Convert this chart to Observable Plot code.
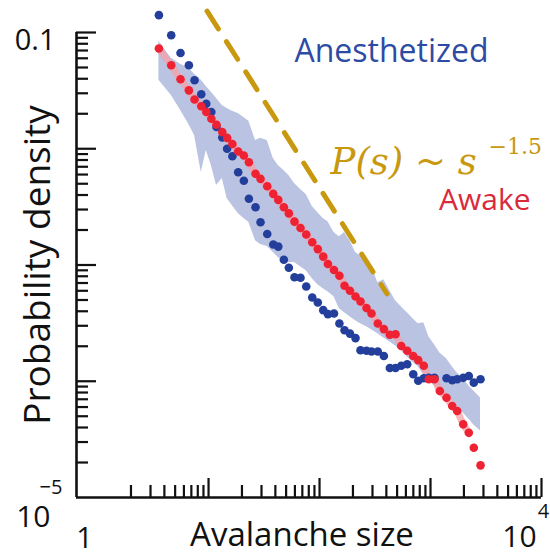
<!DOCTYPE html>
<html>
<head>
<meta charset="utf-8">
<script src="https://cdn.jsdelivr.net/npm/d3@7"></script>
<script src="https://cdn.jsdelivr.net/npm/@observablehq/plot@0.6"></script>
<style>
  html, body { margin: 0; padding: 0; background: #fff; }
</style>
</head>
<body>
<div id="chart"></div>
<script>
// Avalanche size bins (shared by both conditions)
const sizes = [3.57, 4.61, 5.59, 6.65, 7.48, 8.60, 9.54, 10.6, 11.8, 13.3, 14.7, 16.4, 18.5, 20.8, 23.1,
  26.5, 29.4, 33.8, 38.3, 42.5, 47.7, 52.9, 59.5, 67.4, 75.9, 86.0, 96.5, 108, 119, 135, 151, 168,
  188, 211, 234, 265, 294, 335, 380, 430, 484, 545, 617, 699, 775, 870, 965, 1086, 1213, 1394, 1569,
  1740, 1971, 2213, 2455, 2822];

// Probability density, awake condition (mean)
const awake = [0.0728, 0.0522, 0.0396, 0.0318, 0.0265, 0.0232, 0.0207, 0.0181, 0.0161, 0.0139, 0.0124,
  0.0110, 0.00948, 0.00875, 0.00766, 0.00609, 0.00551, 0.00476, 0.00409, 0.00363, 0.00314, 0.00278,
  0.00236, 0.00208, 0.00183, 0.00157, 0.00137, 0.00118, 0.00102, 0.000906, 0.000809, 0.000663,
  0.000600, 0.000536, 0.000486, 0.000426, 0.000383, 0.000314, 0.000281, 0.000251, 0.000254, 0.000201,
  0.000183, 0.000165, 0.000152, 0.000136, 0.000104, 0.000104, 0.0000825, 0.0000722, 0.0000612,
  0.0000555, 0.0000426, 0.0000360, 0.0000268, 0.0000189];

// Spread of the awake distribution (lower / upper edge of the shaded band)
const bandLow = [0.0388, 0.0288, 0.0214, 0.0162, 0.0130, 0.00625, 0.00967, 0.00718, 0.00483, 0.00555,
  0.00373, 0.00324, 0.00277, 0.00251, 0.00232, 0.00162, 0.00150, 0.00144, 0.00128, 0.00116,
  0.00107, 0.00105, 0.00105, 0.000967, 0.000893, 0.000762, 0.000676, 0.000625, 0.000589, 0.000533,
  0.000420, 0.000388, 0.000358, 0.000331, 0.000312, 0.000294, 0.000277, 0.000256, 0.000236, 0.000218,
  0.000201, 0.000183, 0.000162, 0.000144, 0.000133, 0.000113, 0.000101, 0.0000911, 0.0000825, 0.0000747,
  0.0000676, 0.0000612, 0.0000533, 0.0000473, 0.0000420, 0.0000373];
const bandHigh = [0.0841, 0.0600, 0.0533, 0.0492, 0.0437, 0.0388, 0.0344, 0.0306, 0.0271, 0.0236, 0.0222,
  0.0210, 0.0201, 0.0186, 0.0172, 0.0118, 0.0123, 0.0118, 0.00825, 0.00718, 0.00650, 0.00589, 0.00502,
  0.00446, 0.00404, 0.00318, 0.00282, 0.00251, 0.00236, 0.00190, 0.00175, 0.00190, 0.00162, 0.00128,
  0.00120, 0.00111, 0.000986, 0.000704, 0.000747, 0.000600, 0.000492, 0.000437, 0.000388, 0.000344,
  0.000312, 0.000318, 0.000241, 0.000206, 0.000175, 0.000156, 0.000133, 0.000118, 0.000105, 0.0000911,
  0.0000825, 0.0000718];

// Probability density, anesthetized condition (null = empty bin)
const anesthetized = [0.141, 0.0948, 0.0667, 0.0522, 0.0388, 0.0294, 0.0244, 0.0207, 0.0154, 0.0125,
  0.0100, 0.00863, 0.00628, 0.00530, 0.00371, 0.00314, 0.00233, 0.00185, 0.00150, 0.00144, 0.00111,
  0.000948, 0.000785, 0.000777, 0.000654, 0.000526, 0.000476, 0.000409, 0.000378, 0.000383, 0.000314,
  0.000275, 0.000257, 0.000235, 0.000185, 0.000183, 0.000180, 0.000180, 0.000165, 0.000130, 0.000130,
  0.000136, 0.000140, 0.000115, 0.000101, 0.000106, 0.000107, 0.000107, null, 0.000106, 0.000102,
  0.000104, 0.000107, 0.000111, 0.0000973, 0.000104];

// Power-law guide P(s) ~ s^-1.5
const guideExponent = -1.5;
const guidePrefactor = 4.61;
const guideSizes = [9.7, 405];

// Axis extents and labelled ticks
const xDomain = [0.646, 1e4];
const yDomain = [1e-5, 0.1];
const xMajor = [10, 100, 1000, 10000];
const yMajor = [0.1, 0.01, 0.001, 0.0001];
const xLabels = [{value: 1, text: "1"}];
const xPowLabels = [{value: 1e4, base: "10", exp: "4"}];
const yLabels = [{value: 0.1, text: "0.1"}];
const yPowLabels = [{value: 1e-5, base: "10", exp: "\u22125"}];

// Minor log ticks: 2..9 in every decade
const minorTicks = (lo, hi) => {
  const out = [];
  for (let e = lo; e < hi; e++) for (let k = 2; k <= 9; k++) out.push(k * 10 ** e);
  return out;
};
const xMinor = minorTicks(0, 4);
const yMinor = minorTicks(-5, -1);

const rows = sizes.map((s, i) => ({
  s, awake: awake[i], anest: anesthetized[i], lo: bandLow[i], hi: bandHigh[i]
}));
const guide = guideSizes.map(s => ({s, p: guidePrefactor * s ** guideExponent}));

const W = 550, H = 557;
const M = {top: 32, right: 9, bottom: 60, left: 76};
const frameW = W - M.left - M.right;
const frameH = H - M.top - M.bottom;

const ink = "#111";
const blue = "#233f9b";
const red = "#ee2233";
const gold = "#c8980e";
const sans = "'Open Sans', sans-serif";
const serif = "'DejaVu Serif', serif";
const mid = {lineAnchor: "middle"};

const chart = Plot.plot({
  width: W,
  height: H,
  marginTop: M.top,
  marginRight: M.right,
  marginBottom: M.bottom,
  marginLeft: M.left,
  style: {background: "#fff", fontFamily: sans},
  x: {type: "log", domain: xDomain, axis: null},
  y: {type: "log", domain: yDomain, axis: null},
  marks: [
    // spread band
    Plot.areaY(rows, {x: "s", y1: "lo", y2: "hi", fill: "#bbc3e2"}),
    // soft trace under the awake points
    Plot.line(rows.slice(0, 54), {x: "s", y: "awake", stroke: "#f5a0a8", strokeWidth: 7, strokeOpacity: 0.75}),
    // power-law guide
    Plot.line(guide, {x: "s", y: "p", stroke: gold, strokeWidth: 5, strokeDasharray: "21,15"}),
    // data points
    Plot.dot(rows.filter(d => d.anest != null), {x: "s", y: "anest", r: 4.3, fill: blue}),
    Plot.dot(rows, {x: "s", y: "awake", r: 4.3, fill: red}),

    // axes lines
    Plot.ruleX([xDomain[0]], {stroke: ink, strokeWidth: 2.6}),
    Plot.ruleY([yDomain[0]], {stroke: ink, strokeWidth: 2.6}),
    // inward ticks
    Plot.tickY(yMajor, {y: d => d, stroke: ink, strokeWidth: 2.2, insetRight: frameW - 20}),
    Plot.tickY(yMinor, {y: d => d, stroke: ink, strokeWidth: 2.2, insetRight: frameW - 12}),
    Plot.tickX(xMajor, {x: d => d, stroke: ink, strokeWidth: 2.2, insetTop: frameH - 19}),
    Plot.tickX(xMinor, {x: d => d, stroke: ink, strokeWidth: 2.2, insetTop: frameH - 12}),

    // tick labels
    Plot.text(yLabels, {x: () => xDomain[0], y: "value", text: "text", textAnchor: "end", dx: -21, dy: 8, fontSize: 29, fill: ink, ...mid}),
    Plot.text(yPowLabels, {x: () => xDomain[0], y: "value", text: "base", textAnchor: "end", dx: -26, dy: 20, fontSize: 30, fill: ink, ...mid}),
    Plot.text(yPowLabels, {x: () => xDomain[0], y: "value", text: "exp", textAnchor: "start", dx: -37, dy: -10, fontSize: 20, fill: ink, ...mid}),
    Plot.text(xLabels, {x: "value", y: () => yDomain[0], text: "text", dx: -13, dy: 41, fontSize: 29, fill: ink, ...mid}),
    Plot.text(xPowLabels, {x: "value", y: () => yDomain[0], text: "base", dx: -22, dy: 40, fontSize: 30, fill: ink, ...mid}),
    Plot.text(xPowLabels, {x: "value", y: () => yDomain[0], text: "exp", dx: 2, dy: 14, fontSize: 20, fill: ink, ...mid}),

    // axis titles
    Plot.text(["Probability density"], {frameAnchor: "left", textAnchor: "middle", rotate: -90, dx: -38, dy: 0, fontSize: 37, fill: ink, ...mid}),
    Plot.text(["Avalanche size"], {frameAnchor: "bottom", textAnchor: "middle", dx: -7, dy: 38, fontSize: 33, fill: ink, ...mid}),

    // series labels and power-law annotation
    Plot.text(["Anesthetized"], {frameAnchor: "top-right", textAnchor: "end", dx: -53, dy: 19, fontSize: 32, fill: "#2e4ba3", ...mid}),
    Plot.text(["Awake"], {frameAnchor: "top-right", textAnchor: "end", dx: -11, dy: 168, fontSize: 30, fill: "#d92a3c", ...mid}),
    Plot.text(["P(s) ~ s"], {frameAnchor: "top-left", textAnchor: "start", dx: 254, dy: 130, fontSize: 37, fontStyle: "italic", fontFamily: serif, fill: gold, ...mid}),
    Plot.text(["\u22121.5"], {frameAnchor: "top-left", textAnchor: "start", dx: 412, dy: 114, fontSize: 22, fontFamily: serif, fill: gold, ...mid})
  ]
});

document.getElementById("chart").appendChild(chart);
</script>
</body>
</html>
